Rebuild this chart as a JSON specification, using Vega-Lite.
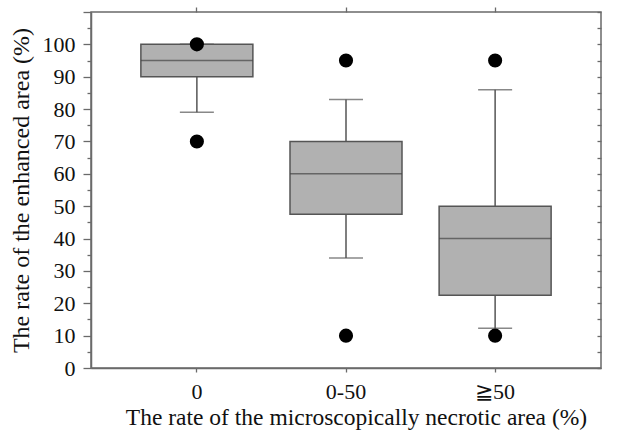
{
  "$schema": "https://vega.github.io/schema/vega-lite/v6.json",
  "width": 510,
  "height": 356,
  "autosize": "none",
  "padding": {"left": 91, "top": 12, "right": 25, "bottom": 67},
  "background": "white",
  "config": {
    "view": {"stroke": "#6a6a6a", "strokeWidth": 1.5},
    "font": "Liberation Serif",
    "axis": {
      "labelFont": "Liberation Serif",
      "titleFont": "Liberation Serif",
      "labelColor": "#111",
      "titleColor": "#111",
      "titleFontWeight": "normal",
      "domainColor": "#6a6a6a",
      "domainWidth": 1.5,
      "tickColor": "#6a6a6a",
      "tickWidth": 1.3,
      "grid": false
    }
  },
  "datasets": {
    "stats": [
      {"group": "0", "lower": 79, "q1": 90, "median": 95, "q3": 100, "upper": 100},
      {"group": "0-50", "lower": 34, "q1": 47.5, "median": 60, "q3": 70, "upper": 83},
      {"group": "≧50", "lower": 12.3, "q1": 22.5, "median": 40, "q3": 50, "upper": 86}
    ],
    "outliers": [
      {"group": "0", "value": 100},
      {"group": "0", "value": 70},
      {"group": "0-50", "value": 95},
      {"group": "0-50", "value": 10},
      {"group": "≧50", "value": 95},
      {"group": "≧50", "value": 10}
    ]
  },
  "resolve": {"axis": {"x": "independent", "y": "independent"}},
  "layer": [
    {
      "data": {"name": "stats"},
      "mark": {"type": "rule", "color": "#555", "strokeWidth": 1.5},
      "encoding": {
        "x": {
          "field": "group", "type": "nominal", "sort": ["0", "0-50", "≧50"],
          "scale": {"type": "band", "paddingInner": 0, "paddingOuter": 0.21},
          "axis": {
            "orient": "bottom", "title": "The rate of the microscopically necrotic area (%)",
            "labelAngle": 0, "labelFontSize": 22, "titleFontSize": 23.5,
            "tickSize": 4, "labelPadding": 9, "titlePadding": 3, "domain": true,
            "titleX": 265
          }
        },
        "y": {
          "field": "lower", "type": "quantitative",
          "scale": {"domain": [0, 110], "nice": false, "zero": true},
          "axis": {
            "orient": "left", "title": "The rate of the enhanced area (%)",
            "values": [0, 5, 10, 15, 20, 25, 30, 35, 40, 45, 50, 55, 60, 65, 70, 75, 80, 85, 90, 95, 100, 105, 110],
            "labelExpr": "datum.value % 10 === 0 && datum.value <= 100 ? datum.label : ''",
            "tickSize": {"condition": {"test": "datum.value % 10 === 0", "value": 8}, "value": 4},
            "labelFontSize": 22, "titleFontSize": 24, "labelPadding": 8, "titlePadding": 9,
            "labelFlush": false, "labelOverlap": false
          }
        },
        "y2": {"field": "upper"}
      }
    },
    {
      "data": {"name": "stats"},
      "mark": {"type": "bar", "size": 112, "fill": "#b1b1b1", "stroke": "#555", "strokeWidth": 1.5},
      "encoding": {
        "x": {
          "field": "group", "type": "nominal", "sort": ["0", "0-50", "≧50"],
          "axis": {"orient": "top", "title": null, "labels": false, "tickSize": 5, "domain": false}
        },
        "y": {
          "field": "q1", "type": "quantitative",
          "axis": {
            "orient": "right", "title": null, "labels": false, "domain": false,
            "values": [0, 5, 10, 15, 20, 25, 30, 35, 40, 45, 50, 55, 60, 65, 70, 75, 80, 85, 90, 95, 100, 105, 110],
            "tickSize": -4
          }
        },
        "y2": {"field": "q3"}
      }
    },
    {
      "data": {"name": "stats"},
      "mark": {"type": "tick", "size": 112, "thickness": 1.5, "color": "#444"},
      "encoding": {
        "x": {"field": "group", "type": "nominal", "sort": ["0", "0-50", "≧50"], "axis": null},
        "y": {"field": "median", "type": "quantitative", "axis": null}
      }
    },
    {
      "data": {"name": "stats"},
      "mark": {"type": "tick", "size": 34, "thickness": 1.5, "color": "#555"},
      "encoding": {
        "x": {"field": "group", "type": "nominal", "sort": ["0", "0-50", "≧50"], "axis": null},
        "y": {"field": "lower", "type": "quantitative", "axis": null}
      }
    },
    {
      "data": {"name": "stats"},
      "mark": {"type": "tick", "size": 34, "thickness": 1.5, "color": "#555"},
      "encoding": {
        "x": {"field": "group", "type": "nominal", "sort": ["0", "0-50", "≧50"], "axis": null},
        "y": {"field": "upper", "type": "quantitative", "axis": null}
      }
    },
    {
      "data": {"name": "outliers"},
      "mark": {"type": "point", "shape": "circle", "filled": true, "color": "black", "opacity": 1, "size": 200},
      "encoding": {
        "x": {"field": "group", "type": "nominal", "sort": ["0", "0-50", "≧50"], "axis": null},
        "y": {"field": "value", "type": "quantitative", "axis": null}
      }
    }
  ]
}
